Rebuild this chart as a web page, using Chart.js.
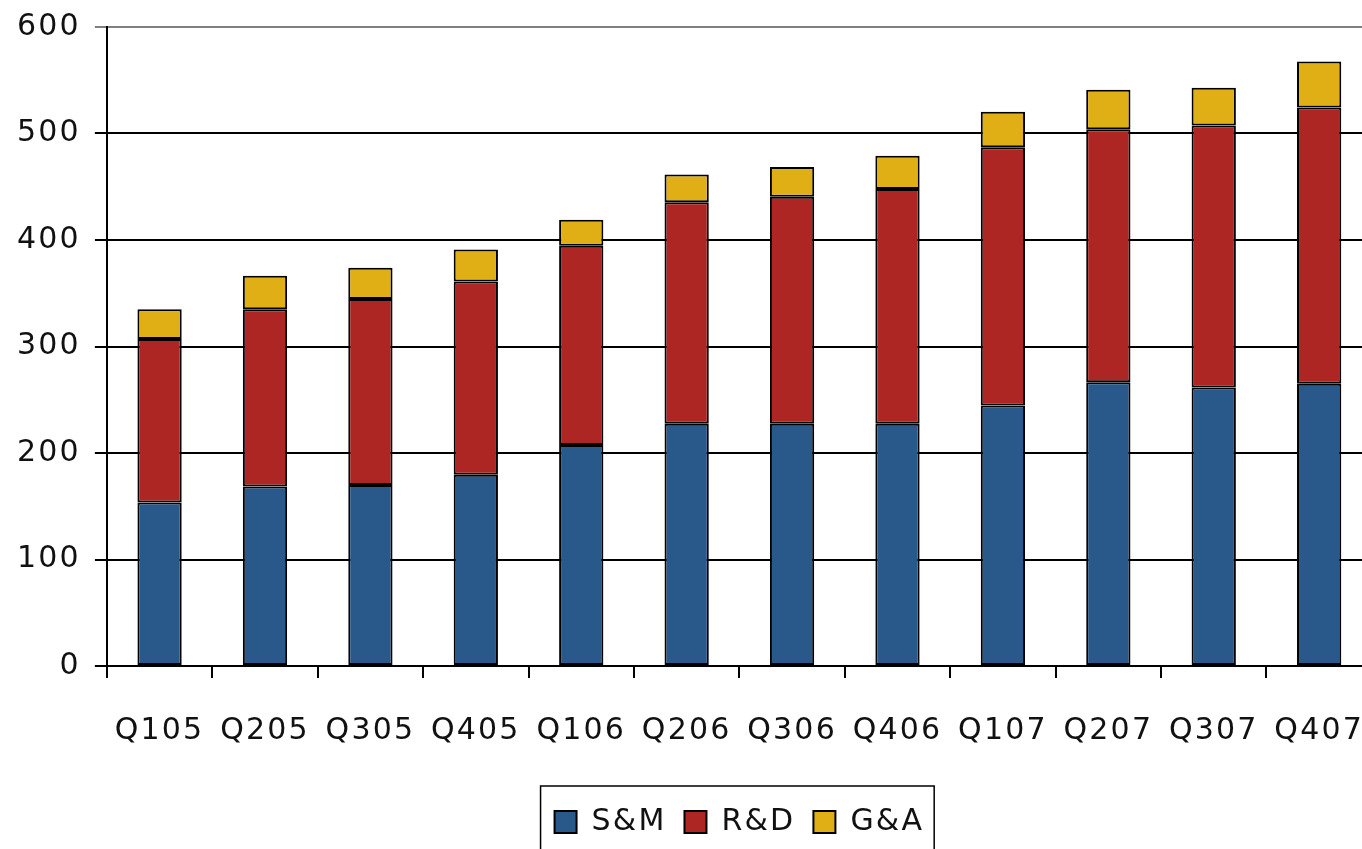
<!DOCTYPE html>
<html>
<head>
<meta charset="utf-8">
<script src="https://cdn.jsdelivr.net/npm/chart.js@4.4.1/dist/chart.umd.min.js"></script>
<style>
  html, body { margin: 0; padding: 0; background: #ffffff; overflow: hidden; }
  #wrap { position: absolute; left: 3px; top: -5px; width: 1396px; height: 885px; }
</style>
</head>
<body>
<div id="wrap"><canvas id="chart" width="1396" height="885"></canvas></div>
<script>
// Quarterly operating expenses by function
const quarters = ['Q105', 'Q205', 'Q305', 'Q405', 'Q106', 'Q206', 'Q306', 'Q406', 'Q107', 'Q207', 'Q307', 'Q407'];
const salesMarketing = [153.5, 168.5, 170, 179.5, 207.5, 227.5, 227.5, 227.5, 244.5, 266.5, 261.5, 265];
const researchDev    = [153.5, 166.5, 174.5, 181.5, 187, 208, 213, 220.5, 242.5, 237.5, 246, 259.5];
const generalAdmin   = [28, 31.5, 29.5, 30, 24.5, 26, 28, 31, 33.5, 37, 35.5, 43];
const seriesNames = ['S&M', 'R&D', 'G&A'];
const yMin = 0, yMax = 600, yStep = 100;

const FONT = { family: '"DejaVu Sans", Verdana, sans-serif', size: 30, weight: 'normal' };
const SPACING = '2.2px';

// Wider tracking on every text the chart draws
const trackingPlugin = {
  id: 'tracking',
  beforeLayout(chart) { chart.ctx.letterSpacing = SPACING; },
  beforeDraw(chart) { chart.ctx.letterSpacing = SPACING; }
};

// Thin frame around the legend entries
const legendFrame = {
  id: 'legendFrame',
  afterDraw(chart) {
    const boxes = chart.legend && chart.legend.legendHitBoxes;
    if (!boxes || !boxes.length) return;
    let l = Infinity, r = -Infinity, t = Infinity, b = -Infinity;
    boxes.forEach(h => {
      l = Math.min(l, h.left); r = Math.max(r, h.left + h.width);
      t = Math.min(t, h.top); b = Math.max(b, h.top + h.height);
    });
    const ctx = chart.ctx;
    ctx.save();
    ctx.strokeStyle = '#000';
    ctx.lineWidth = 1.5;
    ctx.strokeRect(l - 14, t - 21, (r - l) + 24, (b - t) + 60);
    ctx.restore();
  }
};

const edge = '#000000';
const common = { borderColor: edge, borderWidth: 2, borderSkipped: false,
                 barPercentage: 0.42, categoryPercentage: 1.0 };

new Chart(document.getElementById('chart'), {
  type: 'bar',
  data: {
    labels: quarters,
    datasets: [
      Object.assign({ label: seriesNames[0], data: salesMarketing, backgroundColor: '#29588A' }, common),
      Object.assign({ label: seriesNames[1], data: researchDev,    backgroundColor: '#AD2624' }, common),
      Object.assign({ label: seriesNames[2], data: generalAdmin,   backgroundColor: '#E0AF15' }, common)
    ]
  },
  options: {
    responsive: false,
    animation: false,
    devicePixelRatio: 1,
    layout: { padding: { left: 0, right: 0, top: 2, bottom: 33 } },
    plugins: {
      tooltip: { enabled: false },
      title: { display: false },
      legend: {
        position: 'bottom',
        fullSize: false,
        labels: {
          boxWidth: 22, boxHeight: 22, padding: 18,
          color: '#111111',
          font: FONT
        }
      }
    },
    scales: {
      x: {
        stacked: true,
        offset: true,
        afterFit(scale) { scale.height += 5; },
        grid: {
          display: true, offset: true, drawOnChartArea: false, drawTicks: true,
          tickLength: 12, color: '#000', lineWidth: 2
        },
        border: { display: true, color: '#000', width: 2 },
        ticks: { color: '#111111', font: FONT, padding: 35, maxRotation: 0, autoSkip: false }
      },
      y: {
        stacked: true,
        min: yMin, max: yMax,
        grid: {
          display: true, drawTicks: true, tickLength: 12, lineWidth: 2,
          color: (c) => (c.tick && c.tick.value === yMax) ? '#7f7f7f' : '#000'
        },
        border: { display: true, color: '#000', width: 2 },
        ticks: { stepSize: yStep, color: '#111111', font: FONT, padding: 14 }
      }
    }
  },
  plugins: [trackingPlugin, legendFrame]
});
</script>
</body>
</html>
